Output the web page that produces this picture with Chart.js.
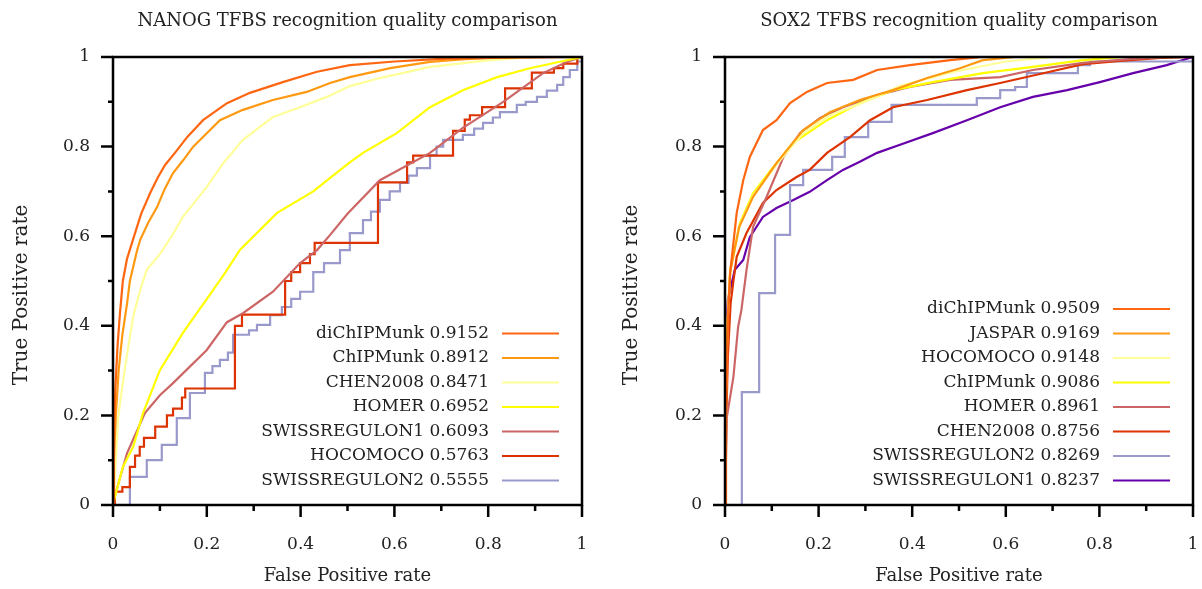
<html>
<head>
<script src="https://cdn.jsdelivr.net/npm/chart.js"></script>
<style>
  body { margin: 0; background: #fff; }
  .panel { position: absolute; top: 0; width: 601px; height: 589px; }
</style>
</head>
<body>
<div class="panel" style="left:0"><canvas id="nanog" width="601" height="589"></canvas></div>
<div class="panel" style="left:601px"><canvas id="sox2" width="601" height="589"></canvas></div>

<script>
// ---- NANOG panel: [false positive rate, true positive rate]
const nanogLabels = ['diChIPMunk 0.9152', 'ChIPMunk 0.8912', 'CHEN2008 0.8471', 'HOMER 0.6952',
  'SWISSREGULON1 0.6093', 'HOCOMOCO 0.5763', 'SWISSREGULON2 0.5555'];

const nanogDiChIPMunk = [[0,0],[0.002,0.15],[0.005,0.26],[0.01,0.36],[0.015,0.43],[0.021,0.5],[0.03,0.55],
  [0.047,0.607],[0.06,0.65],[0.079,0.696],[0.095,0.73],[0.111,0.759],[0.135,0.79],[0.158,0.821],[0.192,0.859],
  [0.243,0.897],[0.292,0.92],[0.362,0.944],[0.435,0.967],[0.505,0.982],[0.6,0.99],[0.7,0.996],[0.8,0.998],[1,1]];
const nanogChIPMunk = [[0,0],[0.002,0.1],[0.006,0.2],[0.012,0.3],[0.02,0.38],[0.03,0.45],[0.036,0.5],[0.051,0.567],
  [0.058,0.592],[0.075,0.63],[0.094,0.665],[0.11,0.705],[0.128,0.741],[0.15,0.77],[0.171,0.8],[0.2,0.83],
  [0.228,0.859],[0.277,0.882],[0.341,0.904],[0.413,0.922],[0.463,0.942],[0.505,0.955],[0.591,0.975],
  [0.676,0.989],[0.75,0.995],[0.85,1],[1,1]];
const nanogChen2008 = [[0,0],[0.004,0.06],[0.011,0.197],[0.026,0.31],[0.043,0.42],[0.058,0.48],[0.072,0.525],
  [0.1,0.56],[0.125,0.6],[0.149,0.643],[0.2,0.71],[0.235,0.763],[0.277,0.815],[0.341,0.866],[0.399,0.888],
  [0.456,0.911],[0.505,0.935],[0.569,0.953],[0.676,0.978],[0.804,0.993],[0.9,1],[1,1]];
const nanogHomer = [[0,0],[0.004,0.018],[0.021,0.085],[0.043,0.13],[0.064,0.205],[0.1,0.301],[0.149,0.384],
  [0.207,0.47],[0.24,0.52],[0.271,0.57],[0.35,0.652],[0.427,0.7],[0.463,0.73],[0.505,0.765],[0.533,0.786],
  [0.605,0.83],[0.676,0.888],[0.746,0.926],[0.819,0.955],[0.889,0.975],[0.96,0.991],[1,1]];
const nanogSwiss1 = [[0,0],[0.004,0.02],[0.03,0.116],[0.068,0.205],[0.1,0.245],[0.128,0.272],[0.2,0.346],
  [0.243,0.408],[0.277,0.428],[0.341,0.476],[0.399,0.54],[0.435,0.569],[0.463,0.603],[0.5,0.65],[0.569,0.725],
  [0.676,0.786],[0.746,0.842],[0.832,0.9],[0.917,0.964],[0.97,0.99],[1,1]];
// staircase curves: each point is where a vertical jump ends
const nanogHocomoco = [[0,0],[0.004,0.03],[0.02,0.04],[0.036,0.085],[0.047,0.11],[0.057,0.13],[0.066,0.15],
  [0.09,0.175],[0.115,0.2],[0.128,0.215],[0.147,0.24],[0.154,0.26],[0.26,0.4],[0.275,0.425],[0.367,0.5],
  [0.38,0.52],[0.399,0.54],[0.42,0.56],[0.43,0.585],[0.565,0.72],[0.627,0.765],[0.64,0.78],[0.725,0.835],
  [0.75,0.86],[0.761,0.87],[0.787,0.888],[0.836,0.93],[0.893,0.965],[0.94,0.975],[0.96,0.985],[0.99,1],[1,1]];
const nanogSwiss2 = [[0,0],[0.036,0.063],[0.072,0.1],[0.104,0.134],[0.136,0.194],[0.164,0.25],[0.196,0.295],
  [0.212,0.31],[0.228,0.324],[0.245,0.34],[0.256,0.38],[0.29,0.39],[0.307,0.402],[0.335,0.424],[0.36,0.442],
  [0.38,0.46],[0.399,0.476],[0.427,0.52],[0.45,0.54],[0.484,0.569],[0.505,0.607],[0.533,0.636],[0.55,0.655],
  [0.569,0.681],[0.59,0.7],[0.612,0.719],[0.63,0.735],[0.648,0.752],[0.676,0.781],[0.69,0.8],[0.704,0.815],
  [0.746,0.826],[0.77,0.84],[0.789,0.853],[0.81,0.865],[0.825,0.877],[0.861,0.893],[0.88,0.9],[0.904,0.911],
  [0.925,0.925],[0.947,0.938],[0.96,0.955],[0.974,0.971],[0.99,0.99],[1,1]];

// ---- SOX2 panel
const sox2Labels = ['diChIPMunk 0.9509', 'JASPAR 0.9169', 'HOCOMOCO 0.9148', 'ChIPMunk 0.9086',
  'HOMER 0.8961', 'CHEN2008 0.8756', 'SWISSREGULON2 0.8269', 'SWISSREGULON1 0.8237'];

const sox2DiChIPMunk = [[0,0],[0.002,0.2],[0.005,0.35],[0.008,0.45],[0.011,0.518],[0.025,0.652],[0.039,0.725],
  [0.053,0.777],[0.081,0.837],[0.11,0.859],[0.139,0.897],[0.175,0.922],[0.218,0.942],[0.274,0.949],
  [0.325,0.971],[0.395,0.982],[0.481,0.993],[0.55,1],[1,1]];
const sox2Jaspar = [[0,0],[0.002,0.25],[0.005,0.4],[0.011,0.52],[0.03,0.62],[0.06,0.688],[0.11,0.763],
  [0.167,0.837],[0.224,0.877],[0.288,0.904],[0.359,0.926],[0.432,0.953],[0.502,0.975],[0.551,0.993],[0.62,1],[1,1]];
const sox2Hocomoco = [[0,0],[0.002,0.25],[0.005,0.4],[0.011,0.52],[0.03,0.62],[0.06,0.69],[0.11,0.76],
  [0.167,0.83],[0.224,0.87],[0.288,0.895],[0.374,0.935],[0.48,0.965],[0.6,0.99],[0.7,1],[1,1]];
const sox2ChIPMunk = [[0,0],[0.002,0.25],[0.005,0.4],[0.011,0.525],[0.032,0.629],[0.06,0.696],[0.1,0.75],
  [0.145,0.808],[0.218,0.859],[0.288,0.897],[0.359,0.926],[0.444,0.944],[0.551,0.964],[0.658,0.978],
  [0.765,0.993],[0.85,1],[1,1]];
const sox2Homer = [[0,0],[0.004,0.197],[0.018,0.286],[0.028,0.397],[0.035,0.435],[0.046,0.525],[0.06,0.621],
  [0.089,0.688],[0.125,0.777],[0.16,0.83],[0.203,0.864],[0.252,0.888],[0.325,0.915],[0.395,0.933],
  [0.481,0.949],[0.588,0.955],[0.658,0.971],[0.765,0.987],[0.872,0.996],[0.95,1],[1,1]];
const sox2Chen2008 = [[0,0],[0.003,0.2],[0.006,0.33],[0.012,0.45],[0.018,0.5],[0.025,0.554],[0.046,0.607],
  [0.081,0.674],[0.11,0.703],[0.153,0.732],[0.181,0.748],[0.218,0.786],[0.267,0.821],[0.31,0.859],
  [0.359,0.888],[0.432,0.904],[0.517,0.926],[0.588,0.942],[0.694,0.967],[0.765,0.984],[0.838,0.991],
  [0.93,0.998],[1,1]];
const sox2Swiss2 = [[0,0],[0.036,0.252],[0.073,0.473],[0.107,0.603],[0.139,0.714],[0.167,0.748],[0.229,0.777],
  [0.256,0.821],[0.306,0.855],[0.356,0.893],[0.538,0.908],[0.588,0.926],[0.62,0.933],[0.645,0.964],
  [0.754,0.982],[0.78,0.99],[1,1]];
const sox2Swiss1 = [[0,0],[0.002,0.25],[0.004,0.397],[0.006,0.458],[0.021,0.525],[0.039,0.547],[0.053,0.598],
  [0.081,0.643],[0.11,0.663],[0.146,0.681],[0.181,0.699],[0.218,0.725],[0.252,0.748],[0.288,0.766],
  [0.325,0.786],[0.374,0.804],[0.444,0.83],[0.517,0.859],[0.588,0.888],[0.658,0.911],[0.731,0.926],
  [0.801,0.944],[0.872,0.964],[0.944,0.982],[0.987,0.996],[1,1]];

// colours by rank
const rankColors = ['#ff6611', '#ff9911', '#ffff99', '#ffff00', '#cc6666', '#dd3300', '#9999cc', '#6600aa'];

const FONT = 'DejaVu Serif';
const TEXT = '#222';

function ds(label, pts, color, stepped) {
  return {
    label,
    data: pts.map(p => ({x: p[0], y: p[1]})),
    borderColor: color,
    backgroundColor: color,
    borderWidth: 2.2,
    pointRadius: 0,
    tension: 0,
    stepped: stepped ? 'before' : false,
    fill: false
  };
}

// frame + outward major/minor ticks
const frameTicks = {
  id: 'frameTicks',
  afterDatasetsDraw(chart) {
    const {ctx, chartArea: a, scales: {x, y}} = chart;
    ctx.save();
    ctx.strokeStyle = '#000';
    ctx.lineWidth = 2.5;
    ctx.strokeRect(a.left, a.top, a.right - a.left, a.bottom - a.top);
    ctx.beginPath();
    x.ticks.forEach(t => {
      const px = x.getPixelForValue(t.value);
      ctx.moveTo(px, a.bottom);
      ctx.lineTo(px, a.bottom + (t.label ? 12 : 6));
    });
    y.ticks.forEach(t => {
      const py = y.getPixelForValue(t.value);
      ctx.moveTo(a.left, py);
      ctx.lineTo(a.left - (t.label ? 12 : 5), py);
    });
    ctx.stroke();
    ctx.restore();
  }
};

// legend inside the plot, text right-aligned with sample to the right
const insideLegend = {
  id: 'insideLegend',
  afterDatasetsDraw(chart) {
    const {ctx, chartArea: a} = chart;
    const sets = chart.data.datasets;
    const n = sets.length;
    ctx.save();
    ctx.font = '17px "' + FONT + '"';
    ctx.textAlign = 'right';
    ctx.textBaseline = 'middle';
    sets.forEach((d, i) => {
      const yy = a.bottom - 24.5 * (n - i);
      ctx.fillStyle = TEXT;
      ctx.fillText(d.label, a.right - 93, yy);
      ctx.strokeStyle = d.borderColor;
      ctx.lineWidth = 2.2;
      ctx.beginPath();
      ctx.moveTo(a.right - 80, yy);
      ctx.lineTo(a.right - 23, yy);
      ctx.stroke();
    });
    ctx.restore();
  }
};

// rotated y-axis title (sits a little below the plot centre, as in the original)
const yTitle = {
  id: 'yTitle',
  afterDraw(chart, args, opts) {
    const {ctx, chartArea: a} = chart;
    ctx.save();
    ctx.font = '20px "' + FONT + '"';
    ctx.fillStyle = TEXT;
    ctx.textAlign = 'center';
    ctx.textBaseline = 'middle';
    ctx.translate(opts.x, (a.top + a.bottom) / 2 + opts.shift);
    ctx.rotate(-Math.PI / 2);
    ctx.fillText(opts.text, 0, 0);
    ctx.restore();
  }
};

function makeChart(id, title, labels, series, steppedIdx, leftW, rightPad, yTitleX) {
  const datasets = series.map((s, i) => ds(labels[i], s, rankColors[i], steppedIdx.includes(i)));
  const tickLabel = v => {
    const r = Math.round(v * 10);
    return r % 2 === 0 ? String(r / 10) : '';
  };
  return new Chart(document.getElementById(id), {
    type: 'line',
    data: {datasets},
    options: {
      animation: false,
      responsive: false,
      layout: {padding: {left: 0, right: rightPad, top: 0, bottom: 0}},
      scales: {
        x: {
          type: 'linear', min: 0, max: 1,
          grid: {display: false, drawTicks: true, tickLength: 29},
          border: {display: false},
          ticks: {stepSize: 0.1, autoSkip: false, maxRotation: 0, padding: 0,
            callback: tickLabel, color: TEXT, font: {family: FONT, size: 17}},
          title: {display: true, text: 'False Positive rate', color: TEXT,
            font: {family: FONT, size: 18}, padding: {top: 0, bottom: 2}},
          afterFit(s) { s.height = 84; }
        },
        y: {
          type: 'linear', min: 0, max: 1,
          grid: {display: false, drawTicks: true, tickLength: 23},
          border: {display: false},
          ticks: {stepSize: 0.1, autoSkip: false, padding: 0,
            callback: tickLabel, color: TEXT, font: {family: FONT, size: 17}},
          afterFit(s) { s.width = leftW; }
        }
      },
      plugins: {
        legend: {display: false},
        tooltip: {enabled: false},
        title: {display: true, text: title, color: TEXT, fullSize: false,
          font: {family: FONT, size: 18, weight: 'normal'}, padding: {top: 11, bottom: 24.4}},
        yTitle: {text: 'True Positive rate', x: yTitleX, shift: 14}
      }
    },
    plugins: [frameTicks, insideLegend, yTitle]
  });
}

makeChart('nanog', 'NANOG TFBS recognition quality comparison', nanogLabels,
  [nanogDiChIPMunk, nanogChIPMunk, nanogChen2008, nanogHomer, nanogSwiss1, nanogHocomoco, nanogSwiss2],
  [5, 6], 113, 19, 22);

makeChart('sox2', 'SOX2 TFBS recognition quality comparison', sox2Labels,
  [sox2DiChIPMunk, sox2Jaspar, sox2Hocomoco, sox2ChIPMunk, sox2Homer, sox2Chen2008, sox2Swiss2, sox2Swiss1],
  [6], 124, 9, 31);
</script>
</body>
</html>
